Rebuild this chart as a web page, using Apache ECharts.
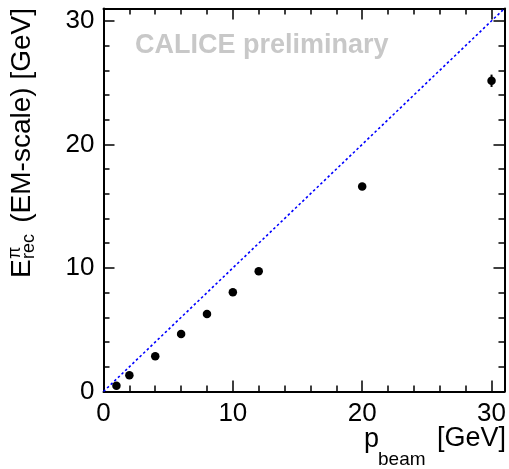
<!DOCTYPE html>
<html>
<head>
<meta charset="utf-8">
<title>Reconstructed pion energy vs beam momentum</title>
<script src="https://cdn.jsdelivr.net/npm/echarts@6/dist/echarts.min.js"></script>
<style>
  html, body { margin: 0; padding: 0; background: #fff; }
  #chart { width: 509px; height: 469px; }
</style>
</head>
<body>
<div id="chart"></div>
<script>
// Beam momentum [GeV] and reconstructed energy on the EM scale [GeV]
const pBeam = [1, 2, 4, 6, 8, 10, 12, 20, 30];
const eRec = [0.47, 1.31, 2.85, 4.65, 6.28, 8.03, 9.73, 16.6, 25.15];
const eErr = [0.05, 0.05, 0.06, 0.08, 0.1, 0.12, 0.14, 0.25, 0.5];

// Reference line E = p
const diagonal = [[0, 0], [31, 31]];

// Axis ranges and tick positions
const axisMin = 0;
const axisMax = 31;
const majorTicks = [0, 10, 20, 30];
const minorTicks = [2, 4, 6, 8, 12, 14, 16, 18, 22, 24, 26, 28];

const FONT = '"Liberation Sans", Arial, Helvetica, sans-serif';

const chart = echarts.init(document.getElementById('chart'), null, { renderer: 'canvas' });

function makeAxis(pos, ticks, len, withLabels, withLine) {
  const vertical = pos === 'left' || pos === 'right';
  return {
    type: 'value',
    position: pos,
    min: axisMin,
    max: axisMax,
    splitLine: { show: false },
    axisLine: { show: withLine, onZero: false, lineStyle: { color: '#000', width: 2 } },
    axisTick: {
      show: true, inside: true, length: len, customValues: ticks,
      lineStyle: { color: '#000', width: 1.5 }
    },
    axisLabel: withLabels ? {
      show: true, customValues: majorTicks, color: '#000',
      fontFamily: FONT, fontSize: 26, margin: 9,
      padding: vertical ? [4, 0, 0, 0] : 0
    } : { show: false }
  };
}

const data = pBeam.map((p, i) => [p, eRec[i], eErr[i]]);

const option = {
  backgroundColor: '#fff',
  animation: false,
  grid: { left: 103.5, right: 4.5, top: 8.5, bottom: 77.5, containLabel: false },
  xAxis: [
    makeAxis('bottom', majorTicks, 11, true, true),
    makeAxis('bottom', minorTicks, 6, false, false),
    makeAxis('top', majorTicks, 11, false, true),
    makeAxis('top', minorTicks, 6, false, false)
  ],
  yAxis: [
    makeAxis('left', majorTicks, 11, true, true),
    makeAxis('left', minorTicks, 6, false, false),
    makeAxis('right', majorTicks, 11, false, true),
    makeAxis('right', minorTicks, 6, false, false)
  ],
  series: [
    {
      type: 'line',
      data: diagonal,
      symbol: 'none',
      lineStyle: { color: '#0000ff', width: 1.6, type: [2.5, 2.5] },
      z: 2
    },
    {
      type: 'custom',
      data: data,
      renderItem: function (params, api) {
        const x = api.value(0), y = api.value(1), e = api.value(2);
        const lo = api.coord([x, y - e]);
        const hi = api.coord([x, y + e]);
        return {
          type: 'line',
          shape: { x1: lo[0], y1: lo[1], x2: hi[0], y2: hi[1] },
          style: { stroke: '#000', lineWidth: 2 }
        };
      },
      z: 3
    },
    {
      type: 'scatter',
      data: data,
      symbol: 'circle',
      symbolSize: 8.5,
      itemStyle: { color: '#000', opacity: 1 },
      z: 4
    }
  ],
  graphic: [
    {
      type: 'text', x: 135, y: 45.5,
      style: {
        text: 'CALICE preliminary', font: 'bold 27px ' + FONT,
        fill: '#c8c8c8', textAlign: 'left', textVerticalAlign: 'middle'
      }
    },
    // x-axis title: p_beam [GeV]
    {
      type: 'text', x: 364, y: 440,
      style: { text: 'p', font: '27px ' + FONT, fill: '#000', textAlign: 'left', textVerticalAlign: 'middle' }
    },
    {
      type: 'text', x: 378, y: 460,
      style: { text: 'beam', font: '19px ' + FONT, fill: '#000', textAlign: 'left', textVerticalAlign: 'middle' }
    },
    {
      type: 'text', x: 506, y: 439,
      style: { text: '[GeV]', font: '27px ' + FONT, fill: '#000', textAlign: 'right', textVerticalAlign: 'middle' }
    },
    // y-axis title: E^pi_rec (EM-scale) [GeV]
    {
      type: 'text', x: 22.5, y: 278, rotation: Math.PI / 2,
      style: { text: 'E', font: '28px ' + FONT, fill: '#000', textAlign: 'left', textVerticalAlign: 'middle' }
    },
    {
      type: 'text', x: 15.5, y: 259, rotation: Math.PI / 2,
      style: { text: 'π', font: '18px ' + FONT, fill: '#000', textAlign: 'left', textVerticalAlign: 'middle' }
    },
    {
      type: 'text', x: 29.5, y: 259, rotation: Math.PI / 2,
      style: { text: 'rec', font: '18px ' + FONT, fill: '#000', textAlign: 'left', textVerticalAlign: 'middle' }
    },
    {
      type: 'text', x: 22.5, y: 8, rotation: Math.PI / 2,
      style: { text: '(EM-scale) [GeV]', font: '28px ' + FONT, fill: '#000', textAlign: 'right', textVerticalAlign: 'middle' }
    }
  ]
};

chart.setOption(option);
</script>
</body>
</html>
